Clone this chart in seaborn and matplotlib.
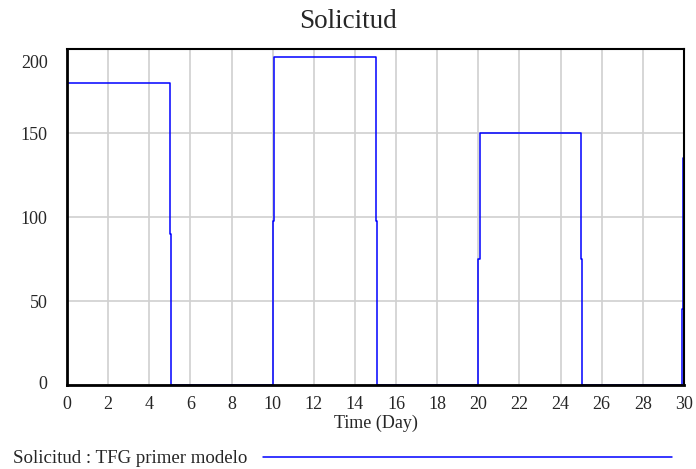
import numpy as np
import pandas as pd
import matplotlib
matplotlib.use("Agg")
import matplotlib.pyplot as plt
import matplotlib.transforms as mtransforms
import seaborn as sns

# datos (Vensim, escalones con medio paso en cada transicion)
tiempo = [0, 5, 5.0625, 10, 10.0625, 15, 15.0625, 20, 20.0625, 25, 25.0625, 29.9, 29.95, 30]
solicitud = [180, 90, 0, 97.5, 195, 97.5, 0, 75, 150, 75, 0, 45, 135, 180]
xticks = list(range(0, 31, 2))
yticks = [0, 50, 100, 150, 200]

df = pd.DataFrame({"Time": tiempo, "Solicitud": solicitud})

sns.set_style("white")
plt.rcParams["font.family"] = ["Liberation Serif", "DejaVu Serif"]

fig = plt.figure(figsize=(6.96, 4.69), dpi=100)
ax = fig.add_axes([67 / 696, 1 - 385 / 469, 617 / 696, 336 / 469])

sns.lineplot(data=df, x="Time", y="Solicitud", ax=ax, color="#0000ff",
             linewidth=1.1, drawstyle="steps-post", estimator=None, legend=False)

ax.set_xlim(0, 30)
ax.set_ylim(0, 200)
ax.set_xticks(xticks)
ax.set_xticklabels([str(x) for x in xticks], fontsize=13)
ax.set_yticks(yticks)
ax.set_yticklabels([str(y) for y in yticks], fontsize=13)
ax.grid(True, color="#d0d0d0", linewidth=1.2)
ax.set_axisbelow(True)
ax.tick_params(length=0, pad=8)
ax.tick_params(axis="y", pad=14)

# etiqueta superior desplazada hacia abajo, como en Vensim
ylabs = ax.get_yticklabels()
off_top = mtransforms.ScaledTranslation(0, -12 / 100, fig.dpi_scale_trans)
off_bot = mtransforms.ScaledTranslation(0, 3 / 100, fig.dpi_scale_trans)
ylabs[-1].set_transform(ylabs[-1].get_transform() + off_top)
ylabs[0].set_transform(ylabs[0].get_transform() + off_bot)

for s in ["left", "bottom"]:
    ax.spines[s].set_linewidth(2)
for s in ["top", "right"]:
    ax.spines[s].set_linewidth(1.5)
for s in ax.spines.values():
    s.set_color("black")

ax.set_xlabel("Time (Day)", fontsize=13, labelpad=1)
ax.set_ylabel("")
fig.text(0.5, 1 - 21 / 469, "Solicitud", fontsize=19.5, ha="center", va="center")

# leyenda al pie
fig.text(13 / 696, 1 - 458 / 469, "Solicitud : TFG primer modelo", fontsize=13.6, va="center")
fig.add_artist(plt.Line2D([263 / 696, 672 / 696], [1 - 457 / 469, 1 - 457 / 469],
                          color="#0000ff", linewidth=1.1))

fig.savefig("out.png", dpi=100)
